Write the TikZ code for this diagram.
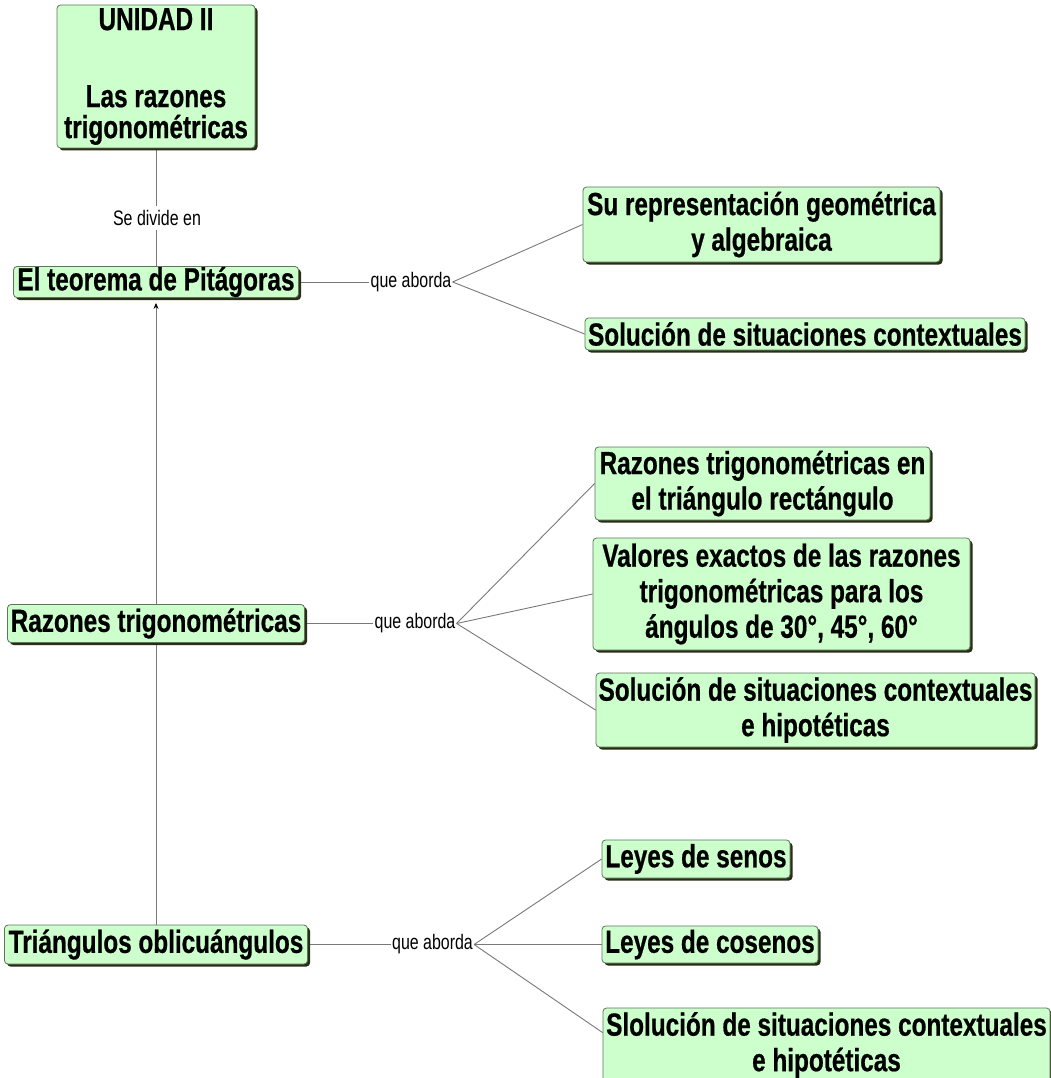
\documentclass[tikz,border=0pt]{standalone}
\usepackage{fontspec}
\usetikzlibrary{shadows,arrows.meta}
\newfontfamily\narrowsans{Liberation Sans}[FakeStretch=0.76, BoldFeatures={FakeBold=0.6}]
\definecolor{boxfill}{RGB}{204,255,204}
\definecolor{boxline}{RGB}{95,115,95}
\definecolor{boxshadow}{RGB}{40,45,20}
\definecolor{linkgray}{RGB}{120,120,120}
\pgfdeclarelayer{background}
\pgfsetlayers{background,main}
\tikzset{
  concept/.style={draw=boxline, line width=0.8pt, fill=boxfill, rounded corners=3.5pt,
    inner sep=0pt, align=center, text=black,
    font=\narrowsans\bfseries\fontsize{32}{35.5}\selectfont,
    drop shadow={shadow xshift=2.5pt, shadow yshift=-2.5pt, opacity=1, fill=boxshadow}},
  linkword/.style={inner sep=1pt, text=black,
    font=\narrowsans\fontsize{21}{24}\selectfont},
  conn/.style={draw=linkgray, line width=0.9pt}
}
\begin{document}
\begin{tikzpicture}[x=1pt, y=-1pt]
\useasboundingbox (0,0) rectangle (1051,1078);

% main column
\node[concept, minimum width=198pt, minimum height=143pt,
      font=\narrowsans\bfseries\fontsize{32}{31}\selectfont]
  (unidad) at (156,76.5) {UNIDAD II\\[46pt]Las razones\\trigonométricas};
\node[concept, minimum width=285pt, minimum height=31pt] (pitagoras) at (156,282) {El teorema de Pitágoras};
\node[concept, minimum width=297pt, minimum height=38pt] (razones) at (156,623.5) {Razones trigonométricas};
\node[concept, minimum width=303pt, minimum height=39pt] (oblicuos) at (156,944.5) {Triángulos oblicuángulos};

% linking words
\node[linkword, fill=white, inner sep=4pt] (divide) at (157,218) {Se divide en};
\node[linkword] (aborda1) at (411,282) {que aborda};
\node[linkword] (aborda2) at (415,623.5) {que aborda};
\node[linkword] (aborda3) at (432.5,944.5) {que aborda};

% topics of the first block
\node[concept, minimum width=357pt, minimum height=75pt] (geom) at (761.5,224.5) {Su representación geométrica\\y algebraica};
\node[concept, minimum width=440pt, minimum height=32pt] (solA) at (805,334) {Solución de situaciones contextuales};

% topics of the second block
\node[concept, minimum width=335pt, minimum height=73pt] (rect) at (762.5,483.5) {Razones trigonométricas en\\el triángulo rectángulo};
\node[concept, minimum width=377pt, minimum height=112pt] (exactos) at (781.5,594) {Valores exactos de las razones\\trigonométricas para los\\ángulos de 30°, 45°, 60°};
\node[concept, minimum width=439pt, minimum height=74pt] (solB) at (815.5,710) {Solución de situaciones contextuales\\e hipotéticas};

% topics of the third block
\node[concept, minimum width=188pt, minimum height=38pt] (senos) at (696,859) {Leyes de senos};
\node[concept, minimum width=216pt, minimum height=37pt] (cosenos) at (710,944.5) {Leyes de cosenos};
\node[concept, minimum width=447pt, minimum height=74pt] (solC) at (826.5,1045) {Slolución de situaciones contextuales\\e hipotéticas};

\begin{pgfonlayer}{background}
  \draw[conn] (unidad.south) -- (pitagoras.north);
  \draw[conn, -{Stealth[length=6pt, width=5pt, black]}, shorten >=5pt] (oblicuos.north) -- (pitagoras.south);

  \draw[conn] (pitagoras.east) -- (aborda1.west);
  \draw[conn] (aborda1.east) -- (geom.west);
  \draw[conn] (aborda1.east) -- (solA.west);

  \draw[conn] (razones.east) -- (aborda2.west);
  \draw[conn] (aborda2.east) -- (rect.west);
  \draw[conn] (aborda2.east) -- (exactos.west);
  \draw[conn] (aborda2.east) -- (solB.west);

  \draw[conn] (oblicuos.east) -- (aborda3.west);
  \draw[conn] (aborda3.east) -- (senos.west);
  \draw[conn] (aborda3.east) -- (cosenos.west);
  \draw[conn] (aborda3.east) -- ([yshift=-25pt]solC.north west);
\end{pgfonlayer}
\end{tikzpicture}
\end{document}
